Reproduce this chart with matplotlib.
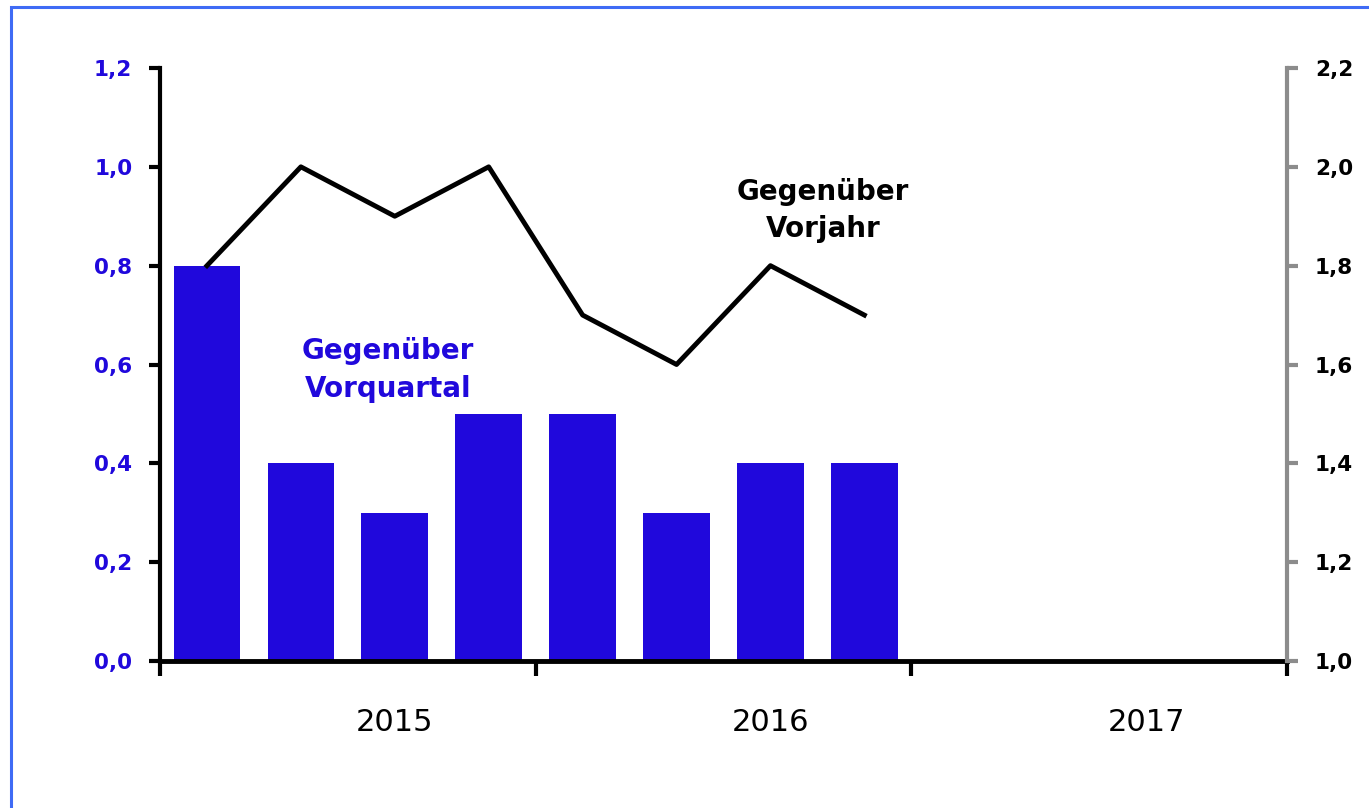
import numpy as np
import matplotlib
matplotlib.use('Agg')
import matplotlib.pyplot as plt
from matplotlib.patches import Rectangle

# Data
quarters = np.arange(8)
vorquartal = [0.8, 0.4, 0.3, 0.5, 0.5, 0.3, 0.4, 0.4]
vorjahr = [1.8, 2.0, 1.9, 2.0, 1.7, 1.6, 1.8, 1.7]
years = ['2015', '2016', '2017']
left_ticks = [0.0, 0.2, 0.4, 0.6, 0.8, 1.0, 1.2]
right_ticks = [1.0, 1.2, 1.4, 1.6, 1.8, 2.0, 2.2]

BLUE = '#2008DC'
plt.rcParams['font.family'] = ['DejaVu Sans']

fig = plt.figure(figsize=(13.69, 8.08), dpi=100)
ax = fig.add_axes([160 / 1369, 147 / 808, 1127 / 1369, 593 / 808])
ax2 = ax.twinx()

# border around the figure
fig.patches.append(Rectangle((11 / 1369, -0.05), 1.1, 0.05 + 801 / 808,
                             transform=fig.transFigure, fill=False,
                             edgecolor='#3F6BF5', linewidth=2.2))

ax.bar(quarters, vorquartal, width=0.71, color=BLUE, zorder=2)
ax2.plot(quarters, vorjahr, color='black', linewidth=3.5, zorder=3)

ax.set_xlim(-0.5, 11.5)
ax.set_ylim(0, 1.2)
ax2.set_ylim(1.0, 2.2)

ax.set_yticks(left_ticks)
ax.set_yticklabels([f'{v:.1f}'.replace('.', ',') for v in left_ticks],
                   color=BLUE, fontweight='bold', fontsize=15.5)
ax2.set_yticks(right_ticks)
ax2.set_yticklabels([f'{v:.1f}'.replace('.', ',') for v in right_ticks],
                    color='black', fontweight='bold', fontsize=15.5)

ax.set_xticks([-0.5, 3.5, 7.5, 11.5])
ax.set_xticklabels([])
ax.set_xticks([2.0, 6.0, 10.0], minor=True)
ax.set_xticklabels(years, minor=True, fontsize=22)
ax.tick_params(axis='x', which='major', length=11, width=3, direction='out', color='black')
ax.tick_params(axis='x', which='minor', length=0, pad=34)
ax.tick_params(axis='y', length=8, width=3, direction='out', color='black', pad=12)
ax2.tick_params(axis='y', length=8, width=3, direction='out', color='#8C8C8C', pad=12)

for s in ['top', 'right']:
    ax.spines[s].set_visible(False)
for s in ['top', 'left', 'bottom']:
    ax2.spines[s].set_visible(False)
ax.spines['left'].set_linewidth(3)
ax.spines['bottom'].set_linewidth(3.5)
ax.spines['bottom'].set_zorder(5)
ax2.spines['right'].set_linewidth(3)
ax2.spines['right'].set_color('#8C8C8C')

ax.text(1.93, 0.589, 'Gegenüber\nVorquartal', color=BLUE, fontweight='bold',
        fontsize=20, ha='center', va='center', linespacing=1.42)
ax2.text(6.56, 1.911, 'Gegenüber\nVorjahr', color='black', fontweight='bold',
         fontsize=20, ha='center', va='center', linespacing=1.42)

fig.savefig('out.png', dpi=100)
